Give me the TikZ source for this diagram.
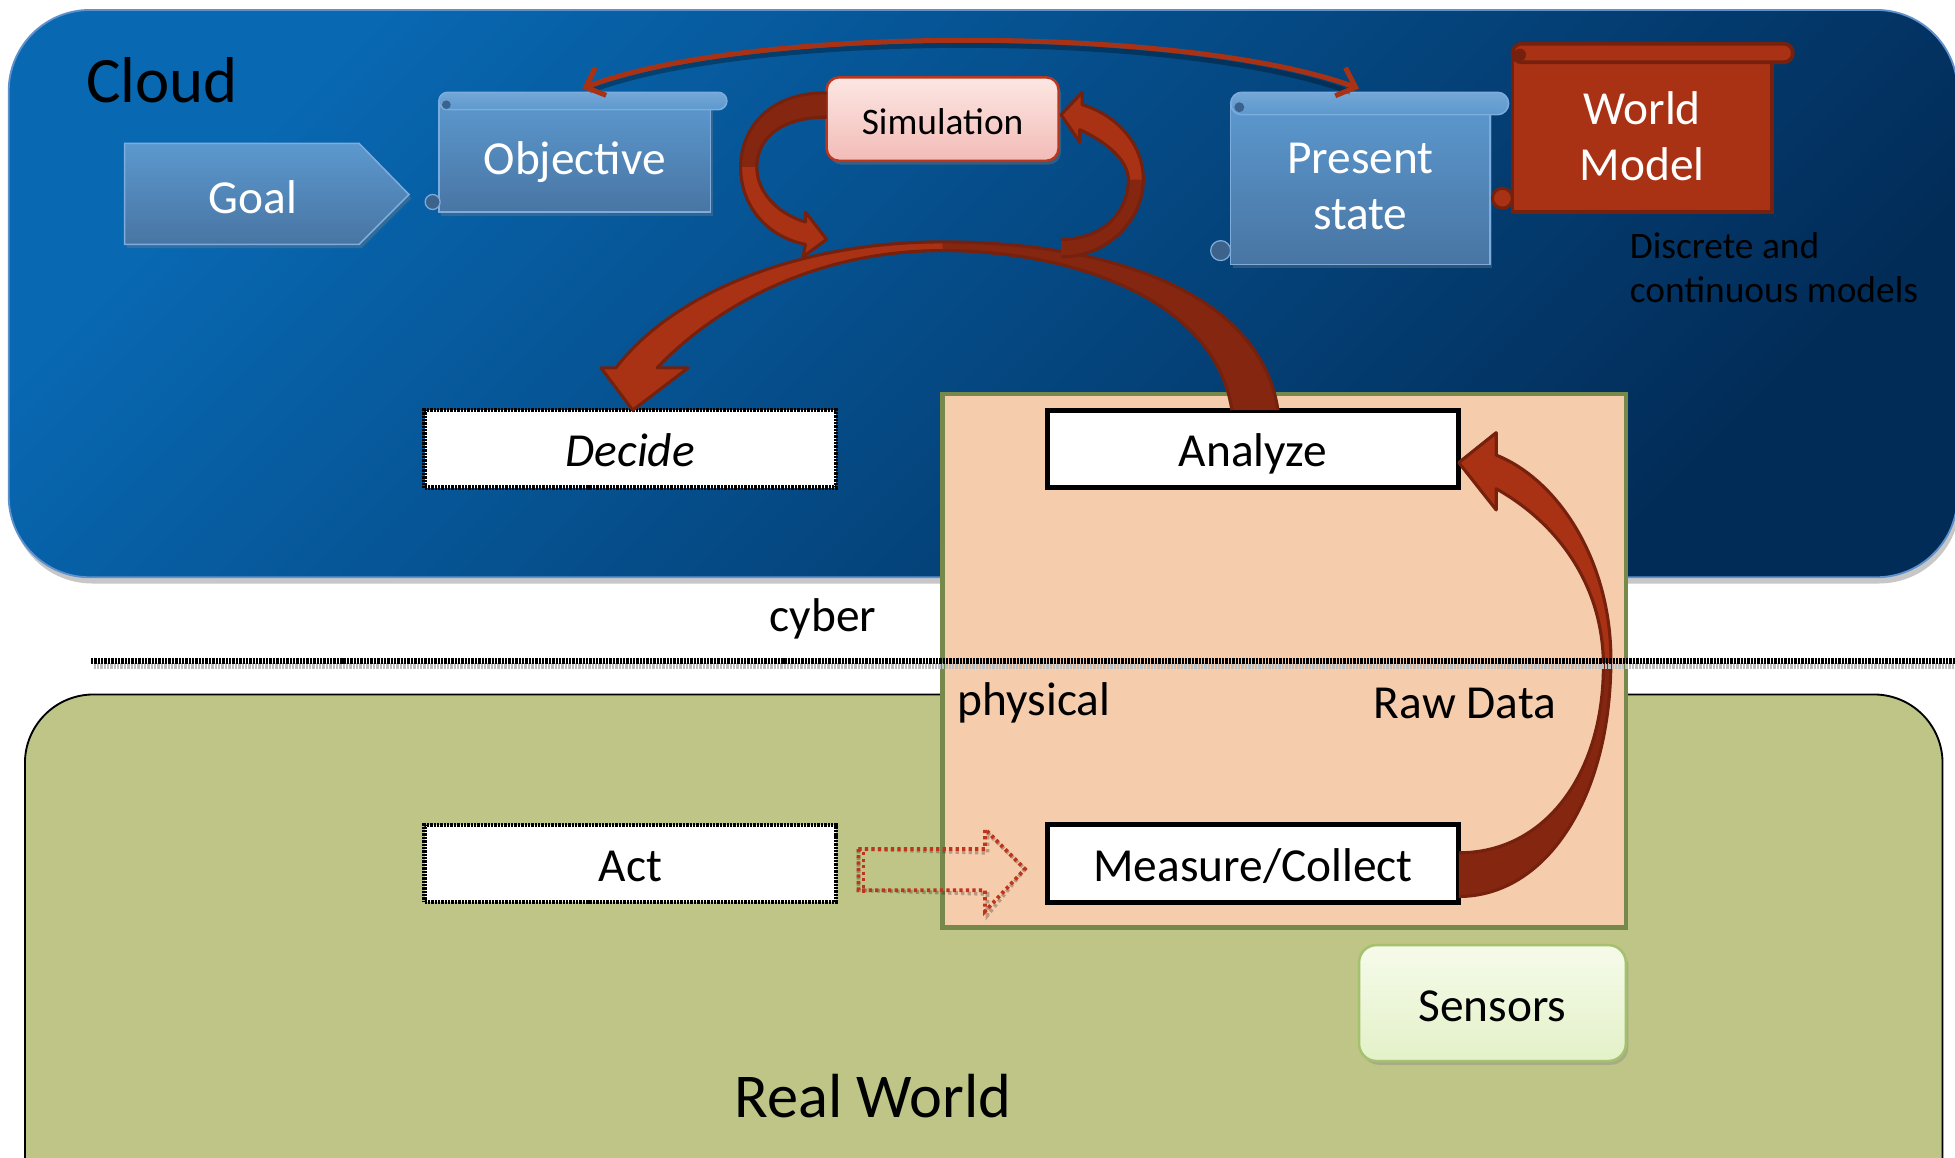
\documentclass[tikz,border=0pt]{standalone}
\usepackage{fontspec}
\setmainfont{Carlito}
\usetikzlibrary{arrows.meta,calc,shadows}

\definecolor{cloudA}{RGB}{8,104,178}
\definecolor{cloudB}{RGB}{2,44,88}
\definecolor{cloudEdge}{RGB}{95,145,205}
\definecolor{earth}{RGB}{190,197,135}
\definecolor{peach}{RGB}{245,204,172}
\definecolor{olive}{RGB}{119,137,74}
\definecolor{scrollTop}{RGB}{92,152,206}
\definecolor{scrollBot}{RGB}{72,117,163}
\definecolor{scrollEdge}{RGB}{125,172,222}
\definecolor{scrollDark}{RGB}{58,98,142}
\definecolor{rust}{RGB}{169,50,20}
\definecolor{rustDark}{RGB}{133,38,16}
\definecolor{rustLine}{RGB}{118,33,13}
\definecolor{pinkTop}{RGB}{252,230,227}
\definecolor{pinkBot}{RGB}{243,188,183}
\definecolor{simEdge}{RGB}{185,55,30}
\definecolor{greenTop}{RGB}{246,251,234}
\definecolor{greenBot}{RGB}{227,241,200}
\definecolor{greenEdge}{RGB}{165,192,110}
\definecolor{dotRed}{RGB}{190,52,28}

\begin{document}
\begin{tikzpicture}[x=1pt,y=-1pt,
  lbl/.style={font=\fontsize{38}{45}\selectfont, align=center, inner sep=0pt, outer sep=0pt},
  onel/.style={lbl, text height=29pt, text depth=0pt},
  wlbl/.style={lbl, text=white},
  framebox/.style={onel, draw=black, fill=white, line width=4pt, minimum width=330pt, minimum height=62pt},
  dotframe/.style={framebox, line width=3.5pt, dash pattern=on 1.9pt off 0.8pt},
  scrollbody/.style={wlbl, top color=scrollTop, bottom color=scrollBot, draw=scrollEdge, line width=1.2pt},
  softshadow/.style={drop shadow={shadow xshift=2pt, shadow yshift=-3pt, opacity=.35}},
  bandlight/.style={fill=rust},
  banddark/.style={fill=rustDark},
  bandline/.style={draw=rustLine, line width=2.5pt, line join=round},
  dotred/.style={draw=dotRed, line width=3pt, dash pattern=on 2.6pt off 2.6pt},
  divider/.style={line width=5pt, dash pattern=on 1.9pt off 0.8pt},
]
\useasboundingbox (0,0) rectangle (1568,928);
\fill[white] (0,0) rectangle (1568,928);
\clip (0,0) rectangle (1568,928);

% ---------- panels ----------
\fill[black!22, rounded corners=65pt] (9,13) rectangle (1572,468);
\shade[rounded corners=65pt, top color=cloudA, bottom color=cloudB, shading angle=45,
       draw=cloudEdge, line width=1.5pt] (7,8) rectangle (1570,463);
\filldraw[fill=earth, draw=black, line width=1.5pt, rounded corners=55pt] (20,557) rectangle (1558,1000);
\node[draw=olive, fill=peach, line width=3.5pt, minimum width=548pt, minimum height=428pt,
      inner sep=0pt, outer sep=0pt] (cps) at (1030,530) {};

\node[font=\fontsize{52}{60}\selectfont, inner sep=0pt] (cloud) at (130,64) {Cloud};

% ---------- goal ----------
\shade[top color=scrollTop, bottom color=scrollBot, draw=scrollEdge, line width=1.2pt, softshadow]
  (100,115) -- (288,115) -- (328,156) -- (288,196) -- (100,196) -- cycle;
\node[onel, text=white] (goal) at (203,157) {Goal};

% ---------- objective scroll ----------
\node[scrollbody, onel, softshadow, minimum width=218pt, minimum height=89pt] (objective) at (461,125.5) {Objective};
\shade[top color=scrollTop!85!white, bottom color=scrollTop, draw=scrollEdge, line width=1.2pt, rounded corners=7pt]
  ($(objective.north west)+(0,-7)$) rectangle ($(objective.north east)+(13,7)$);
\fill[scrollDark] ($(objective.north west)+(6,3)$) circle (3.5pt);
\filldraw[fill=scrollBot!85!black, draw=scrollEdge, line width=1pt] ($(objective.south west)+(-5,-8)$) circle (6pt);

% ---------- present state scroll ----------
\node[scrollbody, softshadow, minimum width=208pt, minimum height=129pt] (present) at (1091,147.5)
  {Present\rule{0pt}{29pt}\\state};
\shade[top color=scrollTop!85!white, bottom color=scrollTop, draw=scrollEdge, line width=1.2pt, rounded corners=9pt]
  ($(present.north west)+(0,-9)$) rectangle ($(present.north east)+(15,9)$);
\fill[scrollDark] ($(present.north west)+(7,3)$) circle (4pt);
\filldraw[fill=scrollBot!85!black, draw=scrollEdge, line width=1pt] ($(present.south west)+(-8,-11)$) circle (8pt);

% ---------- world model scroll ----------
\node[wlbl, fill=rust, draw=rustLine, line width=3pt, minimum width=208pt, minimum height=128pt] (worldmodel)
  at (1317,106) {World\rule{0pt}{32.5pt}\\Model};
\filldraw[fill=rust, draw=rustLine, line width=3pt, rounded corners=7.5pt]
  ($(worldmodel.north west)+(0,-7)$) rectangle ($(worldmodel.north east)+(17,8)$);
\fill[rustLine] ($(worldmodel.north west)+(6,2)$) circle (5pt);
\filldraw[fill=rust, draw=rustLine, line width=2.5pt] ($(worldmodel.south west)+(-8,-11)$) circle (8pt);

\node[font=\fontsize{30}{35}\selectfont, align=left, anchor=west, inner sep=0pt] (models) at (1307,214.5)
  {Discrete and\\continuous models};

% ---------- simulation ----------
\node[lbl, font=\fontsize{30}{35}\selectfont, text height=25pt, text depth=0pt, top color=pinkTop,
      bottom color=pinkBot, draw=simEdge, line width=2pt, rounded corners=10pt, minimum width=186pt,
      minimum height=67pt, softshadow] (sim) at (756,95.5) {Simulation};

% ---------- process boxes ----------
\node[dotframe] (decide) at (505.5,360) {\itshape Decide};
\node[framebox] (analyze) at (1005,360) {Analyze};
\node[dotframe] (act) at (505.5,692.5) {Act};
\node[framebox] (measure) at (1005,692.5) {Measure/Collect};
\node[onel, top color=greenTop, bottom color=greenBot, draw=greenEdge, line width=2pt, rounded corners=14pt,
      minimum width=214pt, minimum height=93pt, softshadow] (sensors) at (1197,804.5) {Sensors};

% ---------- thin arrow objective <-> present state ----------
\draw[black, opacity=.3, line width=4pt]
  ($(objective.north)+(12,-8)$) .. controls (600,24) and (950,24) .. ($(present.north)+(-8,-9)$);
\draw[rust, line width=4pt, {Straight Barb[length=13pt,width=24pt]}-{Straight Barb[length=13pt,width=24pt]}]
  ($(objective.north)+(6,-10)$) .. controls (600,20) and (950,20) .. ($(present.north)+(-1,-12)$);

% ---------- analyze -> decide ----------
\coordinate (aOut) at ($(analyze.north)+(20,0)$);
\coordinate (aIn)  at ($(analyze.north)+(-17,0)$);
\coordinate (aTip) at ($(decide.north)+(2,0)$);
\path[banddark] (aOut) .. controls (1010,230) and (880,194) .. (756,194)
  .. controls (640,194) and (540,235) .. (494,295) -- (482,295) -- (aTip) -- (552,295) -- (527,295)
  .. controls (580,240) and (660,201) .. (756,201) .. controls (860,201) and (975,240) .. (aIn) -- cycle;
\path[bandlight] (756,194) .. controls (640,194) and (540,235) .. (494,295) -- (482,295) -- (aTip)
  -- (552,295) -- (527,295) .. controls (580,240) and (660,201) .. (756,201) -- cycle;
\path[bandline] (aOut) .. controls (1010,230) and (880,194) .. (756,194)
  .. controls (640,194) and (540,235) .. (494,295) -- (482,295) -- (aTip) -- (552,295) -- (527,295)
  .. controls (580,240) and (660,201) .. (756,201) .. controls (860,201) and (975,240) .. (aIn);

% ---------- simulation loop, left ----------
\coordinate (cOut) at ($(sim.west)+(0,-21)$);
\coordinate (cIn)  at ($(sim.west)+(0,-1.5)$);
\path[banddark] (cOut) .. controls (615,74) and (594,105) .. (594,134) .. controls (594,165) and (615,190) .. (646,196)
  -- (644,206) -- (663,192) -- (646,170) -- (646,178) .. controls (625,172) and (607,155) .. (607,134)
  .. controls (607,112) and (625,94) .. (cIn) -- cycle;
\path[bandlight] (594,134) .. controls (594,165) and (615,190) .. (646,196)
  -- (644,206) -- (663,192) -- (646,170) -- (646,178) .. controls (625,172) and (607,155) .. (607,134) -- cycle;
\path[bandline] (cOut) .. controls (615,74) and (594,105) .. (594,134) .. controls (594,165) and (615,190) .. (646,196)
  -- (644,206) -- (663,192) -- (646,170) -- (646,178) .. controls (625,172) and (607,155) .. (607,134)
  .. controls (607,112) and (625,94) .. (cIn);

% ---------- simulation loop, right ----------
\coordinate (dTip) at ($(sim.east)+(2,-3.5)$);
\path[banddark] (851,206) .. controls (890,206) and (917,175) .. (917,144) .. controls (917,115) and (895,92) .. (868,84)
  -- (868,74) -- (dTip) -- (866,114) -- (866,104) .. controls (890,115) and (905,130) .. (905,144)
  .. controls (905,170) and (885,192) .. (851,192) -- cycle;
\path[bandlight] (917,144) .. controls (917,115) and (895,92) .. (868,84)
  -- (868,74) -- (dTip) -- (866,114) -- (866,104) .. controls (890,115) and (905,130) .. (905,144) -- cycle;
\path[bandline] (851,206) .. controls (890,206) and (917,175) .. (917,144) .. controls (917,115) and (895,92) .. (868,84)
  -- (868,74) -- (dTip) -- (866,114) -- (866,104) .. controls (890,115) and (905,130) .. (905,144)
  .. controls (905,170) and (885,192) .. (851,192);

% ---------- measure -> analyze ----------
\coordinate (bOut) at ($(measure.east)+(0,26.5)$);
\coordinate (bIn)  at ($(measure.east)+(0,-8.5)$);
\coordinate (bTip) at ($(analyze.east)+(0,11)$);
\path[banddark] (bOut) .. controls (1240,719) and (1292,640) .. (1292,529) .. controls (1292,450) and (1250,385) .. (1200,365)
  -- (1200,347) -- (bTip) -- (1200,409) -- (1200,392) .. controls (1250,420) and (1286,470) .. (1286,534)
  .. controls (1286,620) and (1240,684) .. (bIn) -- cycle;
\path[bandlight] (1292,529) .. controls (1292,450) and (1250,385) .. (1200,365)
  -- (1200,347) -- (bTip) -- (1200,409) -- (1200,392) .. controls (1250,420) and (1286,470) .. (1286,534) -- cycle;
\path[bandline] (bOut) .. controls (1240,719) and (1292,640) .. (1292,529) .. controls (1292,450) and (1250,385) .. (1200,365)
  -- (1200,347) -- (bTip) -- (1200,409) -- (1200,392) .. controls (1250,420) and (1286,470) .. (1286,534)
  .. controls (1286,620) and (1240,684) .. (bIn);

% ---------- act -> measure (dotted block arrow) ----------
\draw[dotred, draw=black, opacity=.25, shift={(2,3)}]
  ($(act.east)+(18,-11.5)$) -- (790,681) -- (790,665) -- ($(measure.west)+(-18,4.5)$) -- (790,731) -- (790,714)
  -- ($(act.east)+(18,21.5)$) -- cycle;
\draw[dotred] ($(act.east)+(22,-9)$) -- ($(act.east)+(22,24)$);
\draw[dotred]
  ($(act.east)+(18,-11.5)$) -- (790,681) -- (790,665) -- ($(measure.west)+(-18,4.5)$) -- (790,731) -- (790,714)
  -- ($(act.east)+(18,21.5)$) -- cycle;

% ---------- cyber / physical divider ----------
\draw[divider, black!25] (75,534) -- (1568,534);
\draw[divider, black] (73,530) -- (1568,530);

% ---------- labels ----------
\node[onel] (cyber) at (660,492) {cyber};
\node[onel] (physical) at (829.5,559) {physical};
\node[onel] (rawdata) at (1175,562) {Raw Data};
\node[font=\fontsize{50}{58}\selectfont, inner sep=0pt] (realworld) at (700,879) {Real World};
\end{tikzpicture}
\end{document}
